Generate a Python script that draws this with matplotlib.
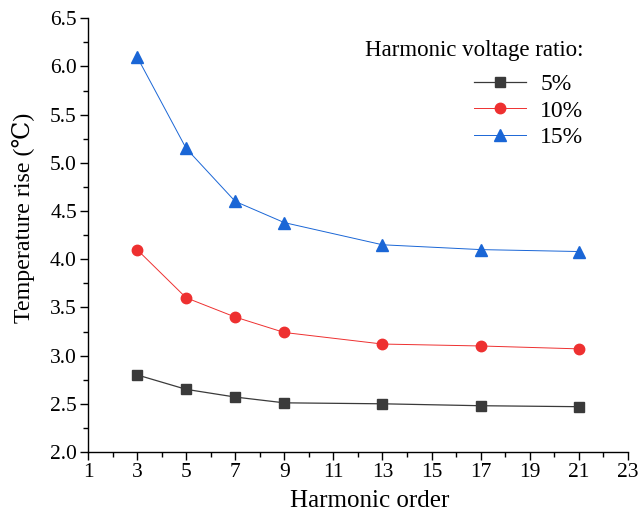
import matplotlib
matplotlib.use("Agg")
import matplotlib.pyplot as plt
from matplotlib.ticker import MultipleLocator

plt.rcParams['font.family'] = ['Liberation Serif', 'DejaVu Serif']

orders = [3, 5, 7, 9, 13, 17, 21]
rise_5 = [2.80, 2.65, 2.57, 2.51, 2.50, 2.48, 2.47]
rise_10 = [4.10, 3.60, 3.40, 3.24, 3.12, 3.10, 3.07]
rise_15 = [6.10, 5.15, 4.60, 4.38, 4.15, 4.10, 4.08]
labels = ['5%', '10%', '15%']
xticks = list(range(1, 24, 2))

fig = plt.figure(figsize=(6.4, 5.2), dpi=100)
ax = fig.add_axes([0.1375, 0.1308, 0.8435, 0.834])

ax.plot(orders, rise_5, color='#3a3a3a', lw=0.9, marker='s', ms=6.5, label=labels[0])
ax.plot(orders, rise_10, color='#ee3030', lw=0.7, marker='o', ms=7.5, label=labels[1])
ax.plot(orders, rise_15, color='#1a66d6', lw=0.7, marker='^', ms=8, label=labels[2])

ax.set_xlim(1, 23)
ax.set_ylim(2.0, 6.5)
ax.set_xticks(xticks)
ax.xaxis.set_minor_locator(MultipleLocator(1))
ax.yaxis.set_major_locator(MultipleLocator(0.5))
ax.yaxis.set_minor_locator(MultipleLocator(0.25))
ax.yaxis.set_major_formatter(matplotlib.ticker.FormatStrFormatter('%.1f'))
for s in ['top', 'right']:
    ax.spines[s].set_visible(False)
for s in ['left', 'bottom']:
    ax.spines[s].set_linewidth(1.0)
ax.tick_params(which='major', direction='out', length=6, width=1, labelsize=15.5, pad=2)
ax.tick_params(which='minor', direction='out', length=3.5, width=1)

ax.set_xlabel('Harmonic order', fontsize=18)
ax.xaxis.set_label_coords(0.522, -0.087)
ax.set_ylabel('Temperature rise (\u2103)', fontsize=17.3)
ax.yaxis.set_label_coords(-0.098, 0.539)

leg = ax.legend(title='Harmonic voltage ratio:', loc='upper right', bbox_to_anchor=(0.948, 0.987),
                frameon=False, fontsize=17, title_fontsize=16.5, alignment='right',
                handlelength=2.2, handletextpad=0.6, labelspacing=0.2, borderaxespad=0.3)
leg._legend_box.sep = 9

fig.savefig('out.png', dpi=100)
